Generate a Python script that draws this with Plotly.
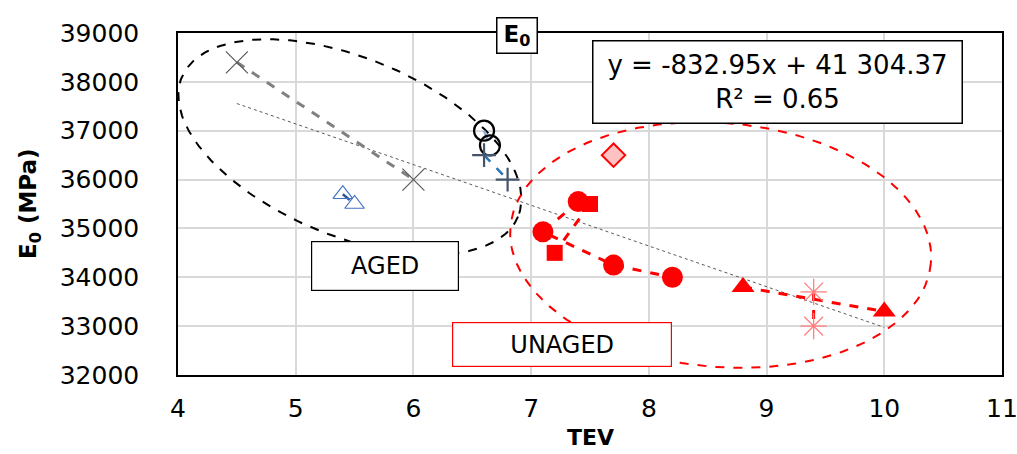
import numpy as np
import plotly.graph_objects as go

# ---- data -------------------------------------------------------------
aged_x_tev = [4.5, 6.0]
aged_x_e0 = [38400, 36000]

aged_tri_tev = [5.4, 5.5]
aged_tri_e0 = [35700, 35500]

aged_circ_tev = [6.6, 6.65]
aged_circ_e0 = [37000, 36700]

aged_plus_tev = [6.6, 6.8]
aged_plus_e0 = [36500, 36000]

unaged_dia_tev = [7.7]
unaged_dia_e0 = [36500]

unaged_circ_tev = [7.4, 7.1, 7.7, 8.2]
unaged_circ_e0 = [35550, 34930, 34250, 34000]

unaged_sq_tev = [7.5, 7.2]
unaged_sq_e0 = [35500, 34500]

unaged_tri_tev = [8.8, 10.0]
unaged_tri_e0 = [33800, 33300]

unaged_ast_tev = [9.4, 9.4]
unaged_ast_e0 = [33700, 33000]

# linear fit reported on the chart
fit_slope = -832.95
fit_intercept = 41304.37
fit_r2 = 0.65
fit_range = [4.5, 10.0]

x_range = [4, 11]
y_range = [32000, 39000]

# ---- geometry helpers -------------------------------------------------
W, H = 1017, 454
M_L, M_R, M_T, M_B = 178, 15, 33, 79
PLOT_W = W - M_L - M_R
px_per_x = PLOT_W / (x_range[1] - x_range[0])
px_per_y = (H - M_T - M_B) / (y_range[1] - y_range[0])

FONT = "DejaVu Sans"


def ellipse(cx, cy, a_px, b_px, deg, n=240):
    """Rotated ellipse drawn in screen space, returned in data units."""
    t = np.linspace(0, 2 * np.pi, n)
    th = np.radians(deg)
    dx = a_px * np.cos(t) * np.cos(th) - b_px * np.sin(t) * np.sin(th)
    dy = a_px * np.cos(t) * np.sin(th) + b_px * np.sin(t) * np.cos(th)
    return cx + dx / px_per_x, cy - dy / px_per_y


fig = go.Figure()

# group outlines
ex, ey = ellipse(5.46, 36667, 182, 89, 22.5)
fig.add_trace(go.Scatter(x=ex, y=ey, mode="lines", hoverinfo="skip",
                         line=dict(color="black", width=2, dash="dash")))
ex, ey = ellipse(8.61, 34661, 211, 122, 4.9)
fig.add_trace(go.Scatter(x=ex, y=ey, mode="lines", hoverinfo="skip",
                         line=dict(color="#FF0000", width=2, dash="dash")))

# trend line
fx = np.array(fit_range)
fig.add_trace(go.Scatter(x=fx, y=fit_slope * fx + fit_intercept, mode="lines",
                         line=dict(color="#595959", width=1, dash="dot")))

# aged series
fig.add_trace(go.Scatter(x=aged_x_tev, y=aged_x_e0, mode="lines+markers",
                         line=dict(color="#808080", width=3, dash="dash"),
                         marker=dict(symbol="x-thin-open", size=22, color="#595959",
                                     line=dict(width=1.2))))
fig.add_trace(go.Scatter(x=aged_tri_tev, y=aged_tri_e0, mode="lines+markers",
                         line=dict(color="#2F5597", width=2.5, dash="dash"),
                         marker=dict(symbol="triangle-up-open", size=17, color="#4472C4",
                                     line=dict(width=1.2))))
fig.add_trace(go.Scatter(x=aged_circ_tev, y=aged_circ_e0, mode="lines+markers",
                         line=dict(color="#8FAADC", width=2.5, dash="dash"),
                         marker=dict(symbol="circle-open", size=20, color="black",
                                     line=dict(width=2.2))))
fig.add_trace(go.Scatter(x=aged_plus_tev, y=aged_plus_e0, mode="lines+markers",
                         line=dict(color="#2E75B6", width=2.5, dash="dash"),
                         marker=dict(symbol="cross-thin-open", size=17, color="#44546A",
                                     line=dict(width=2.2))))

# unaged series
fig.add_trace(go.Scatter(x=unaged_dia_tev, y=unaged_dia_e0, mode="markers",
                         marker=dict(symbol="diamond", size=18, color="#FFC2C2",
                                     line=dict(color="#FF0000", width=2))))
fig.add_trace(go.Scatter(x=unaged_circ_tev, y=unaged_circ_e0, mode="lines+markers",
                         line=dict(color="#FF0000", width=3, dash="dash"),
                         marker=dict(symbol="circle", size=21, color="#FF0000")))
fig.add_trace(go.Scatter(x=unaged_sq_tev, y=unaged_sq_e0, mode="lines+markers",
                         line=dict(color="#FF0000", width=3, dash="dash"),
                         marker=dict(symbol="square", size=16, color="#FF0000")))
fig.add_trace(go.Scatter(x=unaged_tri_tev, y=unaged_tri_e0, mode="lines+markers",
                         line=dict(color="#FF0000", width=3, dash="dash"),
                         marker=dict(symbol="triangle-up", size=20, color="#FF0000")))
fig.add_trace(go.Scatter(x=unaged_ast_tev, y=unaged_ast_e0, mode="lines+markers",
                         line=dict(color="#FF0000", width=3, dash="dash"),
                         marker=dict(symbol="asterisk-open", size=22, color="#FF8080",
                                     line=dict(width=1.3))))

# ---- annotations ------------------------------------------------------
fig.add_annotation(x=9.09, y=38007, xref="x", yref="y", showarrow=False,
                   text=f"y = {fit_slope}x + 41 304.37<br>R² = {fit_r2}",
                   font=dict(family=FONT, size=26, color="black"),
                   width=368, height=81, bgcolor="white",
                   bordercolor="black", borderwidth=1.5, borderpad=0)
fig.add_annotation(x=6.876, y=38959, xref="x", yref="y", showarrow=False,
                   text="<b>E<sub>0</sub></b>",
                   font=dict(family=FONT, size=23, color="black"),
                   width=39, height=34, bgcolor="white",
                   bordercolor="black", borderwidth=1.5, borderpad=0)
fig.add_annotation(x=5.76, y=34231, xref="x", yref="y", showarrow=False,
                   text="AGED", font=dict(family=FONT, size=24, color="black"),
                   width=146, height=48, bgcolor="white",
                   bordercolor="black", borderwidth=1.2, borderpad=0)
fig.add_annotation(x=7.26, y=32625, xref="x", yref="y", showarrow=False,
                   text="UNAGED", font=dict(family=FONT, size=24, color="black"),
                   width=218, height=43, bgcolor="white",
                   bordercolor="#FF0000", borderwidth=1.2, borderpad=0)

# axis titles
fig.add_annotation(x=-148 / PLOT_W, y=0.5, xref="paper", yref="paper",
                   xanchor="center", yanchor="middle", showarrow=False,
                   textangle=-90, text="<b>E<sub>0</sub> (MPa)</b>",
                   font=dict(family=FONT, size=23, color="black"))
fig.add_annotation(x=0.5, y=0, xref="paper", yref="paper", yshift=-62,
                   xanchor="center", yanchor="middle", showarrow=False,
                   text="<b>TEV</b>", font=dict(family=FONT, size=22, color="black"))

axis_common = dict(showgrid=True, gridcolor="#D9D9D9", gridwidth=1.5,
                   zeroline=False, showline=True, linecolor="black",
                   linewidth=1.5, mirror=True, ticks="", automargin=False,
                   ticklabeloverflow="allow",
                   tickfont=dict(family=FONT, size=25, color="black"))

fig.update_layout(
    width=W, height=H,
    margin=dict(l=M_L, r=M_R, t=M_T, b=M_B),
    paper_bgcolor="white", plot_bgcolor="white",
    showlegend=False,
    xaxis=dict(range=x_range, dtick=1, tick0=4, ticklabelstandoff=10,
               **axis_common),
    yaxis=dict(range=y_range, dtick=1000, tickformat="d",
               ticklabelstandoff=32, **axis_common),
)

fig.write_html("out.html")
